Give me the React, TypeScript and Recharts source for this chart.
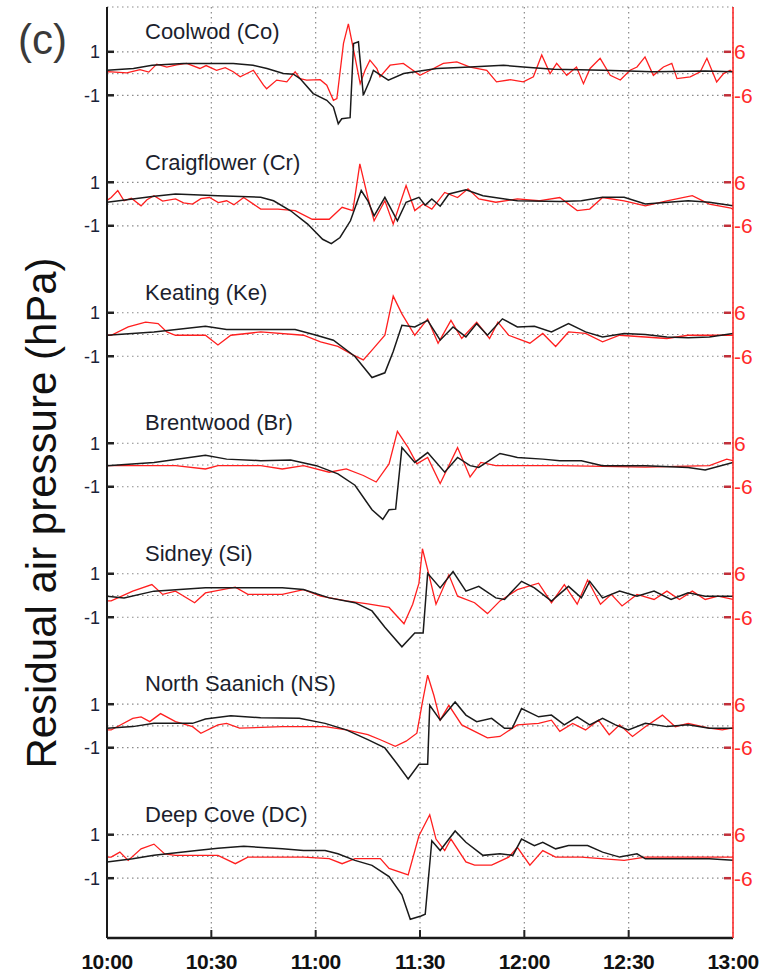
import { LineChart, Line, XAxis, YAxis, CartesianGrid } from "recharts";

// minutes after 10:00, residual pressure (black: hPa, left axis; red: right axis units)
const stations = [
  "Coolwod (Co)",
  "Craigflower (Cr)",
  "Keating (Ke)",
  "Brentwood (Br)",
  "Sidney (Si)",
  "North Saanich (NS)",
  "Deep Cove (DC)",
];
const timeTicks = [0, 30, 60, 90, 120, 150, 180];
const timeLabels = ["10:00", "10:30", "11:00", "11:30", "12:00", "12:30", "13:00"];

const coolwodBlack = [[0,0.15],[7.6,0.23],[13,0.38],[22,0.46],[36.3,0.46],[42,0.38],[46,0.23],[50.7,0],[53.6,-0.03],[55.5,-0.23],[59.3,-0.92],[63.2,-1.23],[65.1,-1.54],[66.5,-2.31],[67.5,-2.08],[69.9,-2.03],[70.9,1.38],[72.3,1.46],[73.7,-1.0],[75.6,-0.3],[76.6,0.15],[80.9,-0.3],[85.3,0],[94.8,0.23],[104.4,0.3],[114,0.38],[119.7,0.3],[128.4,0.2],[142.7,0.15],[157,0.08],[172,0.12],[180,0.08]];
const coolwodRed = [[0,0.5],[1.3,0.46],[5.7,0.2],[9.5,1.1],[12,0.4],[14.3,2.6],[17.2,1.8],[20,2.4],[22.9,2.8],[26.7,1.4],[28.5,2.2],[31.5,0.9],[34,1.6],[36.3,0.5],[38.3,-0.9],[42.1,0.9],[45,-3.2],[45.9,-4.2],[48.8,-1.8],[51.7,-2.3],[54.1,0.5],[55.5,-1.4],[57.4,-1.8],[61.3,-1.7],[63.2,-3.2],[65.1,-7.4],[66.1,-6.9],[68,8.3],[69.4,13.7],[70.9,6.5],[72.8,-2.8],[74.2,0.9],[75.6,3.7],[77.6,1.4],[78.5,-0.9],[81.4,2.3],[85.2,2.8],[90,-0.5],[92.9,0.9],[96.7,2.8],[100.6,3.2],[104.4,1.8],[109.2,0.9],[112,-2.3],[115.9,-1.7],[119.7,-2.3],[122.6,-0.9],[125,5.1],[127.4,0],[129.3,2.8],[132.2,-0.5],[135,1.8],[137,-2.8],[138.9,1.4],[141.8,4.2],[144.7,-0.5],[147.6,-1.8],[150.4,0.9],[152.4,1.8],[154.7,4.6],[157.1,-0.5],[160,1.8],[162.4,2.8],[163.9,-1.4],[167.7,-0.9],[170.6,0.5],[172.5,4.2],[175.3,-2.3],[177.3,0],[179.2,0.9],[180,0.3]];

const craigBlack = [[0,0.08],[7.4,0.23],[13,0.35],[19.7,0.46],[31.9,0.38],[44.2,0.31],[47.9,0.15],[52.8,-0.31],[57.7,-0.92],[62,-1.62],[64.5,-1.82],[67,-1.54],[70,-0.77],[73.1,0.62],[75,0.15],[76.8,-0.54],[79.9,0.31],[83.5,-0.77],[86,0.08],[89.7,0.31],[91.5,-0.05],[93.4,0.23],[95.8,-0.1],[98.3,0.46],[103.2,0.65],[108.1,0.38],[118,0.15],[130.2,0.12],[136.4,0.15],[142.5,0.31],[148.7,0.31],[154.8,0],[167.1,0.15],[173.2,0.08],[180,-0.08]];
const craigRed = [[0,1.0],[1.2,1.8],[3.1,3.7],[4.9,0.9],[7,1.6],[9.8,-0.5],[11.5,1.2],[13.5,2.3],[16,0.8],[19.7,1.4],[22,0.3],[24.6,0],[27,1.5],[29.5,1.8],[32,0.4],[34.4,0.9],[36.5,-0.2],[39.3,1.8],[44.2,-1.4],[49.1,-1.4],[54.1,-1.8],[59,-4.2],[63.9,-4.2],[67.6,-0.9],[70.7,-1.8],[72.7,11.1],[75,1.8],[76.8,-4.6],[79.9,0.9],[82.3,-5.5],[86,5.1],[88.5,-1.8],[90.9,0],[93.4,-1.4],[97.1,3.2],[100.8,1.8],[103.8,4.2],[106.9,1.4],[111.8,0.5],[118,1.4],[124.1,0.9],[130.2,1.8],[135.2,-1.8],[138.8,-1.4],[142.5,1.8],[148.7,0.9],[154.8,-0.5],[161,0.9],[168.3,2.3],[173.2,0],[179.4,-1.1],[180,-1.5]];

const keatingBlack = [[0,-0.03],[13.5,0.12],[28.3,0.38],[34.4,0.23],[44.2,0.23],[54.1,0.23],[60.2,-0.03],[65.1,-0.26],[71.3,-1.01],[76.2,-1.98],[79.9,-1.76],[82.3,-0.78],[84.8,0.42],[88.5,0.35],[92.2,0.65],[95.8,-0.26],[99.5,0.35],[103.2,-0.11],[106.3,0.5],[109.4,-0.03],[113.7,0.72],[118,0.35],[122.9,0.38],[127.8,0.12],[132.7,0.5],[137.6,0.12],[142.5,-0.11],[148.7,0.05],[154.8,0],[161,-0.11],[167.1,-0.15],[173.2,-0.11],[180,0.05]];
const keatingRed = [[0,-0.2],[1.2,-0.2],[6.1,2.1],[11.1,3.4],[14.7,3.0],[17.2,0.7],[19.7,-0.2],[28.3,-0.2],[31.9,-2.9],[35.6,-0.2],[44.2,0.7],[56.5,-0.2],[61.4,-2.0],[66.4,-3.3],[70.7,-5.6],[73.7,-7.0],[76.2,-4.3],[79.9,-0.2],[82.3,10.6],[84.8,5.7],[88.5,-0.2],[92.2,4.3],[95.2,-2.4],[98.9,3.9],[102,-1.1],[106.3,3.4],[110,-1.1],[112.4,3.4],[115.5,-0.2],[121.6,-2.4],[125.3,0.3],[129,-3.3],[132.7,0.7],[137.6,0.3],[142.5,-2.0],[147.4,-0.2],[161,-1.1],[167.1,-0.2],[180,-0.2]];

const brentBlack = [[0,-0.03],[13.5,0.12],[28.3,0.45],[34.4,0.27],[44.2,0.2],[52.8,0.23],[60.2,-0.03],[66.4,-0.41],[71.3,-0.93],[76.2,-2.06],[79.3,-2.5],[81.1,-2.06],[83,-2.03],[84.8,0.8],[88.5,0.12],[92.2,0.57],[97.1,-0.33],[100.8,0.35],[104.4,-0.03],[106.9,-0.11],[113,0.53],[118,0.35],[125.3,0.27],[130.2,0.2],[136.4,0.2],[142.5,-0.03],[154.8,-0.03],[167.1,-0.11],[172,-0.23],[180,0.12]];
const brentRed = [[0,-0.2],[19.7,-0.2],[28.3,-1.1],[31.9,-0.2],[44.2,-0.2],[50.4,-1.1],[56.5,-0.2],[63.9,-2.0],[68.8,-1.1],[73.7,-2.9],[77.4,-4.7],[81.1,0.3],[83.5,9.3],[86.6,4.8],[89.1,0.3],[92.2,2.1],[95.8,-5.1],[100.8,4.8],[104.4,-3.3],[107.5,0.7],[111.8,-0.2],[130.2,-0.2],[154.8,-0.6],[173.2,-0.2],[178.2,1.6],[180,1.2]];

const sidneyBlack = [[0,-0.03],[4.9,-0.11],[13.5,0.2],[28.3,0.35],[38.1,0.35],[50.4,0.35],[56.5,0.27],[63.9,-0.11],[71.3,-0.33],[76.2,-0.71],[79.9,-1.46],[84.8,-2.36],[88.5,-1.73],[90.9,-1.73],[92.2,1.02],[95.8,0.35],[99.5,1.1],[103.2,0.2],[106.9,0.42],[111.8,-0.11],[114.3,-0.18],[119.2,0.65],[122.9,0.35],[127.8,-0.26],[132.7,0.42],[136.4,-0.11],[138.8,0.65],[142.5,-0.11],[147.4,0.2],[152.4,-0.03],[157.3,0.2],[162.2,-0.18],[167.1,0.12],[172,-0.03],[180,-0.03]];
const sidneyRed = [[0,-1.5],[1.2,-1.5],[7.4,1.2],[12.9,3.0],[16,0.3],[19.7,1.2],[25.2,-2.0],[28.3,0.7],[36.9,2.3],[40.5,0.3],[50.4,0.3],[56.5,1.6],[61.4,-0.2],[68.8,-1.5],[75,-2.3],[81.1,-3.3],[85.4,-7.8],[87.9,-2.4],[89.7,3.4],[90.7,12.9],[92.8,4.8],[94.6,-2.4],[98.3,5.7],[100.8,-0.2],[105.7,-2.0],[109.4,-5.0],[113,-1.5],[118,1.6],[124.1,3.4],[127.8,-2.0],[131.5,3.0],[135.2,-2.4],[138.2,4.3],[141.9,-2.4],[145,0.3],[148.1,-2.9],[152.4,0.3],[157.3,-1.1],[161,1.2],[164.6,-1.1],[168.3,1.2],[172,-1.1],[175.7,-0.2],[180,-1.1]];

const nsBlack = [[0,-0.11],[7.4,-0.03],[13.5,0.12],[24.6,0.12],[28.3,0.32],[35.6,0.47],[44.2,0.38],[55.3,0.35],[62.7,0.12],[68.8,-0.18],[75,-0.63],[79.9,-1.01],[83.5,-1.76],[86.6,-2.44],[89.7,-1.76],[92.2,-1.76],[92.8,0.95],[95.8,0.27],[100.1,1.1],[103.2,0.5],[106.3,0.2],[110.6,0.35],[114.3,-0.11],[116.5,-0.11],[119.2,0.8],[124.1,0.42],[127.8,0.5],[131.5,0.05],[135.2,0.42],[138.8,0.05],[142.5,0.35],[146.2,0.05],[149.9,-0.18],[154.8,0.12],[161,-0.03],[167.1,0.05],[173.2,-0.11],[180,-0.11]];
const nsRed = [[0,-1.1],[1.2,-1.1],[7.4,2.1],[9.8,2.5],[12.3,1.2],[15.4,3.4],[19.7,1.2],[24.6,-0.2],[27,-2.0],[31.9,0.3],[34.4,0.7],[38.1,-0.6],[50.4,-0.2],[62.7,-0.2],[68.8,-1.1],[75,-2.4],[78.6,-3.8],[82.9,-5.6],[86,-4.2],[89.1,-2.0],[90.7,6.6],[92.2,14.0],[94,8.4],[95.8,1.6],[98.3,5.7],[102,0.3],[105.7,-1.5],[109.4,-3.3],[113,-2.9],[118,0.3],[124.1,0.7],[127.8,1.6],[130.2,-1.5],[133.9,0.7],[137.6,-1.1],[141.3,1.6],[144.4,-2.4],[147.4,0.3],[151.1,-2.9],[154.8,-0.2],[159.7,3.0],[163.4,-0.2],[167.1,0.7],[173.2,-0.6],[176.9,-1.1],[180,-0.5]];

const dcBlack = [[0,-0.26],[7.4,-0.11],[13.5,0.05],[25.8,0.27],[31.9,0.38],[39.3,0.47],[50.4,0.35],[56.5,0.27],[62.7,0.27],[66.4,0.12],[71.3,-0.18],[76.2,-0.41],[81.1,-0.93],[84.8,-1.76],[87.2,-2.89],[90.3,-2.74],[91.5,-2.66],[93.4,0.72],[95.8,0.27],[100.1,1.17],[103.2,0.65],[108.1,0.05],[113,0.12],[116.7,0.05],[119.2,0.8],[122.9,0.5],[125.3,0.65],[129,0.35],[132.7,0.5],[138.2,0.5],[142.5,0.2],[147.4,-0.03],[152.4,0.12],[154.8,-0.11],[167.1,-0.11],[173.2,-0.11],[180,-0.18]];
const dcRed = [[0,-0.2],[1.2,-0.2],[3.7,1.2],[6.1,-1.1],[9.8,2.1],[13.5,3.4],[16.6,0.7],[19.7,0.3],[31.9,0.3],[36.9,-2.0],[40.5,-0.2],[56.5,-0.2],[63.9,-0.6],[67.6,-2.0],[71.3,-0.6],[78.6,-0.6],[81.1,-3.3],[86.6,-5.1],[89.7,5.7],[92.8,11.5],[94.6,4.8],[97.1,1.6],[98.9,4.8],[103.2,-1.5],[105.7,-2.4],[110.6,-2.4],[115.5,-0.2],[118,2.5],[121.6,-2.4],[125.3,1.6],[129,-0.2],[136.4,-0.2],[148.7,-1.1],[154.8,-0.2],[167.1,-0.2],[180,-0.2]];

const blackSeries = [coolwodBlack, craigBlack, keatingBlack, brentBlack, sidneyBlack, nsBlack, dcBlack];
const redSeries = [coolwodRed, craigRed, keatingRed, brentRed, sidneyRed, nsRed, dcRed];

// each panel is stacked 6 hPa lower than the one above; red axis is 6x the black one
const GAP = 6;
const RED_SCALE = 6;
const leftDomain = [-GAP * 6 - 3.75, 3.06];
const rightDomain = [leftDomain[0] * RED_SCALE, leftDomain[1] * RED_SCALE];
const leftTicks = stations.flatMap((_, i) => [1 - GAP * i, -GAP * i, -1 - GAP * i]);
const rightTicks = stations.flatMap((_, i) => [RED_SCALE - GAP * RED_SCALE * i, -RED_SCALE - GAP * RED_SCALE * i]);

const W = 759;
const H = 975;
const PLOT_LEFT = 107;
const PLOT_TOP = 7;
const PLOT_BOTTOM = 938;
const pxPerUnit = (PLOT_BOTTOM - PLOT_TOP) / (leftDomain[1] - leftDomain[0]);
const yOf = (v: number) => PLOT_TOP + (leftDomain[1] - v) * pxPerUnit;

const font = "'Liberation Sans', Arial, sans-serif";

const LeftTick = ({ x, y, payload }: any) => {
  const v = payload.value;
  const rel = Math.round(v - Math.round(v / GAP) * GAP);
  if (rel === 0) return <g />;
  return (
    <g>
      <line x1={x} x2={x + 7} y1={y} y2={y} stroke="#222" strokeWidth={2.5} />
      <text x={x - 7} y={y} dy="0.36em" textAnchor="end" fontSize={18} fontFamily={font} fill="#1b2238">
        {rel}
      </text>
    </g>
  );
};

const RightTick = ({ x, y, payload }: any) => {
  const v = payload.value;
  const step = GAP * RED_SCALE;
  const rel = Math.round(v - Math.round(v / step) * step);
  return (
    <g>
      <line x1={x - 9} x2={x - 2} y1={y} y2={y} stroke="#c0303a" strokeWidth={2.5} />
      <text x={x + 1} y={y} dy="0.36em" textAnchor="start" fontSize={21} fontFamily={font} fill="#ff2a2a">
        {rel}
      </text>
    </g>
  );
};

const BottomTick = ({ x, y, payload, index }: any) => (
  <g>
    {index > 0 && index < timeTicks.length - 1 && (
      <line x1={x} x2={x} y1={y} y2={y - 8} stroke="#222" strokeWidth={2} />
    )}
    <text x={x} y={y + 23} dy="0.36em" textAnchor="middle" fontSize={21} fontWeight="bold" fontFamily={font} fill="#111" letterSpacing={-0.5}>
      {timeLabels[timeTicks.indexOf(payload.value)]}
    </text>
  </g>
);

const TopTick = ({ x, y, index }: any) =>
  index > 0 && index < timeTicks.length - 1 ? (
    <line x1={x} x2={x} y1={y} y2={y + 9} stroke="#222" strokeWidth={2} />
  ) : (
    <g />
  );

export default function App() {
  return (
    <div style={{ position: "absolute", left: 0, top: 0, width: W, height: H, background: "#fff" }}>
      <LineChart width={W} height={H} margin={{ top: PLOT_TOP, right: 0, bottom: 0, left: 67 }}>
        <CartesianGrid xAxisId="x" yAxisId="left" stroke="#8a8a8a" strokeDasharray="1.5 3.5" strokeWidth={1.2} />
        <XAxis
          xAxisId="x"
          type="number"
          dataKey="t"
          domain={[0, 180]}
          ticks={timeTicks}
          interval={0}
          allowDataOverflow
          height={37}
          tickSize={0}
          tickMargin={0}
          tick={<BottomTick />}
          axisLine={{ stroke: "#1a1a1a", strokeWidth: 2.5 }}
          tickLine={false}
        />
        <XAxis
          xAxisId="top"
          orientation="top"
          type="number"
          dataKey="t"
          domain={[0, 180]}
          ticks={timeTicks}
          interval={0}
          height={0}
          tickSize={0}
          tickMargin={0}
          tick={<TopTick />}
          axisLine={{ stroke: "#1a1a1a", strokeWidth: 1.5 }}
          tickLine={false}
        />
        <YAxis
          yAxisId="left"
          type="number"
          domain={leftDomain}
          ticks={leftTicks}
          interval={0}
          allowDataOverflow
          width={40}
          tickSize={0}
          tickMargin={0}
          tick={<LeftTick />}
          axisLine={{ stroke: "#1a1a1a", strokeWidth: 2 }}
          tickLine={false}
        />
        <YAxis
          yAxisId="right"
          orientation="right"
          type="number"
          domain={rightDomain}
          ticks={rightTicks}
          interval={0}
          allowDataOverflow
          width={26}
          tickSize={0}
          tickMargin={0}
          tick={<RightTick />}
          axisLine={{ stroke: "#ff2020", strokeWidth: 1.5 }}
          tickLine={false}
        />
        {stations.flatMap((name, i) => [
          <Line
            key={name + "-red"}
            data={redSeries[i].map(([t, v]) => ({ t, y: v - GAP * RED_SCALE * i }))}
            dataKey="y"
            xAxisId="x"
            yAxisId="right"
            type="linear"
            stroke="#ff1f1f"
            strokeWidth={1.3}
            dot={false}
            isAnimationActive={false}
          />,
          <Line
            key={name + "-black"}
            data={blackSeries[i].map(([t, v]) => ({ t, y: v - GAP * i }))}
            dataKey="y"
            xAxisId="x"
            yAxisId="left"
            type="linear"
            stroke="#1a1a1a"
            strokeWidth={1.5}
            dot={false}
            isAnimationActive={false}
          />,
        ])}
      </LineChart>

      {stations.map((name, i) => (
        <div
          key={name}
          style={{
            position: "absolute",
            left: 145,
            top: yOf(-GAP * i) - 41.5 - 13,
            fontFamily: font,
            fontSize: 22,
            lineHeight: "26px",
            color: "#1c1f2e",
            whiteSpace: "nowrap",
          }}
        >
          {name}
        </div>
      ))}

      <div
        style={{
          position: "absolute",
          left: 18,
          top: 16,
          fontFamily: font,
          fontSize: 42,
          lineHeight: "48px",
          color: "#3a3a3a",
        }}
      >
        (c)
      </div>

      <div
        style={{
          position: "absolute",
          left: 42,
          top: 513,
          transform: "translate(-50%, -50%) rotate(-90deg)",
          fontFamily: font,
          fontSize: 42,
          lineHeight: "48px",
          color: "#111",
          whiteSpace: "nowrap",
        }}
      >
        Residual air pressure (hPa)
      </div>
    </div>
  );
}
